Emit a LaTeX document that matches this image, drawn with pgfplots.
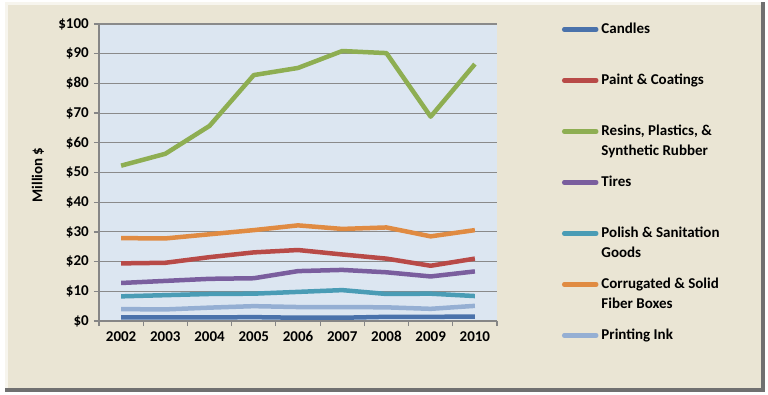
\documentclass[border=0pt]{standalone}
\usepackage{pgfplots}
\pgfplotsset{compat=1.18}
\usepackage{fontspec}
\setmainfont{Carlito}
\definecolor{framebg}{HTML}{EAE5D4}
\definecolor{framedark}{HTML}{707070}
\definecolor{framelight}{HTML}{F7F5EE}
\definecolor{plotbg}{HTML}{DCE6F1}
\definecolor{gridc}{HTML}{8A8A8A}
\definecolor{axisc}{HTML}{868686}
\definecolor{cCandles}{HTML}{4A72AB}
\definecolor{cPaint}{HTML}{B84A47}
\definecolor{cResins}{HTML}{8EAE52}
\definecolor{cTires}{HTML}{7A5E9E}
\definecolor{cPolish}{HTML}{4A9CB5}
\definecolor{cCorr}{HTML}{E08B42}
\definecolor{cInk}{HTML}{95AFD3}
\newcommand\entry[1]{\parbox[c][51pt][t]{160pt}{\rule{0pt}{11pt}#1}}
\begin{document}
\fontsize{15}{20}\selectfont\bfseries
\begin{tikzpicture}
\useasboundingbox (0pt,0pt) rectangle (768pt,394pt);
\fill[white] (0pt,0pt) rectangle (768pt,394pt);
\fill[framedark] (5pt,2pt) rectangle (765pt,392pt);
\fill[framelight] (5pt,6pt) rectangle (761pt,392pt);
\fill[framebg] (8pt,6pt) rectangle (761pt,389pt);
\begin{axis}[
  at={(99pt,73pt)}, anchor=south west, scale only axis,
  width=398pt, height=297pt,
  xmin=-0.5, xmax=8.5, ymin=0, ymax=100,
  axis background/.style={fill=plotbg},
  axis x line*=bottom, axis y line*=left,
  axis line style={draw=axisc, line width=1.2pt},
  xtick={0,...,8},
  xticklabels={2002,2003,2004,2005,2006,2007,2008,2009,2010},
  minor xtick={-0.5,0.5,...,8.5},
  major x tick style={draw=none},
  minor x tick style={draw=axisc, line width=1.2pt},
  ytick={0,10,...,100},
  yticklabels={\$0,\$10,\$20,\$30,\$40,\$50,\$60,\$70,\$80,\$90,\$100},
  major y tick style={draw=axisc, line width=1.2pt},
  tick align=outside,
  major tick length=5pt, minor tick length=5pt,
  ymajorgrids,
  grid style={draw=gridc, line width=1.1pt},
  tick label style={font=\fontsize{15}{18}\selectfont\bfseries},
  /pgf/number format/assume math mode=true,
  ylabel={Million \$},
  ylabel style={at={(axis description cs:-0.1533,0.4916)}, anchor=center, font=\fontsize{15}{18}\selectfont\bfseries},
  legend cell align=left,
  legend style={at={(axis description cs:1.1633,1.0394)}, anchor=north west,
    draw=none, fill=none, inner sep=0pt, outer sep=0pt,
    row sep=0pt, column sep=1pt,
    cells={anchor=west, inner sep=0pt},
    font=\fontsize{15}{20}\selectfont\bfseries},
  legend image code/.code={
    \path[draw=none, fill=none] (0pt,-25.5pt) rectangle (36pt,25.5pt);
    \draw[#1, line cap=round] (2pt,8.3pt) -- (34pt,8.3pt);},
  every axis plot/.append style={line width=4.5pt, line join=round, mark=none},
]
\addplot[cCandles] coordinates {(0,1.2) (1,1.2) (2,1.2) (3,1.3) (4,1.1) (5,1.1) (6,1.4) (7,1.4) (8,1.5)};
\addlegendentry{\entry{Candles}}
\addplot[cPaint] coordinates {(0,19.4) (1,19.6) (2,21.5) (3,23.1) (4,23.9) (5,22.4) (6,21.0) (7,18.6) (8,21.0)};
\addlegendentry{\entry{Paint \& Coatings}}
\addplot[cResins] coordinates {(0,52.3) (1,56.3) (2,65.7) (3,82.8) (4,85.2) (5,90.9) (6,90.2) (7,68.8) (8,86.5)};
\addlegendentry{\entry{Resins, Plastics, \&\newline Synthetic Rubber}}
\addplot[cTires] coordinates {(0,12.8) (1,13.5) (2,14.2) (3,14.4) (4,16.8) (5,17.2) (6,16.4) (7,15.0) (8,16.7)};
\addlegendentry{\entry{Tires}}
\addplot[cPolish] coordinates {(0,8.3) (1,8.7) (2,9.1) (3,9.2) (4,9.8) (5,10.4) (6,9.1) (7,9.2) (8,8.4)};
\addlegendentry{\entry{Polish \& Sanitation\newline Goods}}
\addplot[cCorr] coordinates {(0,27.9) (1,27.8) (2,29.2) (3,30.6) (4,32.2) (5,31.0) (6,31.5) (7,28.5) (8,30.6)};
\addlegendentry{\entry{Corrugated \& Solid\newline Fiber Boxes}}
\addplot[cInk] coordinates {(0,4.0) (1,3.9) (2,4.5) (3,5.0) (4,4.7) (5,4.7) (6,4.6) (7,4.1) (8,5.1)};
\addlegendentry{\entry{Printing Ink}}
\end{axis}
\end{tikzpicture}
\end{document}
